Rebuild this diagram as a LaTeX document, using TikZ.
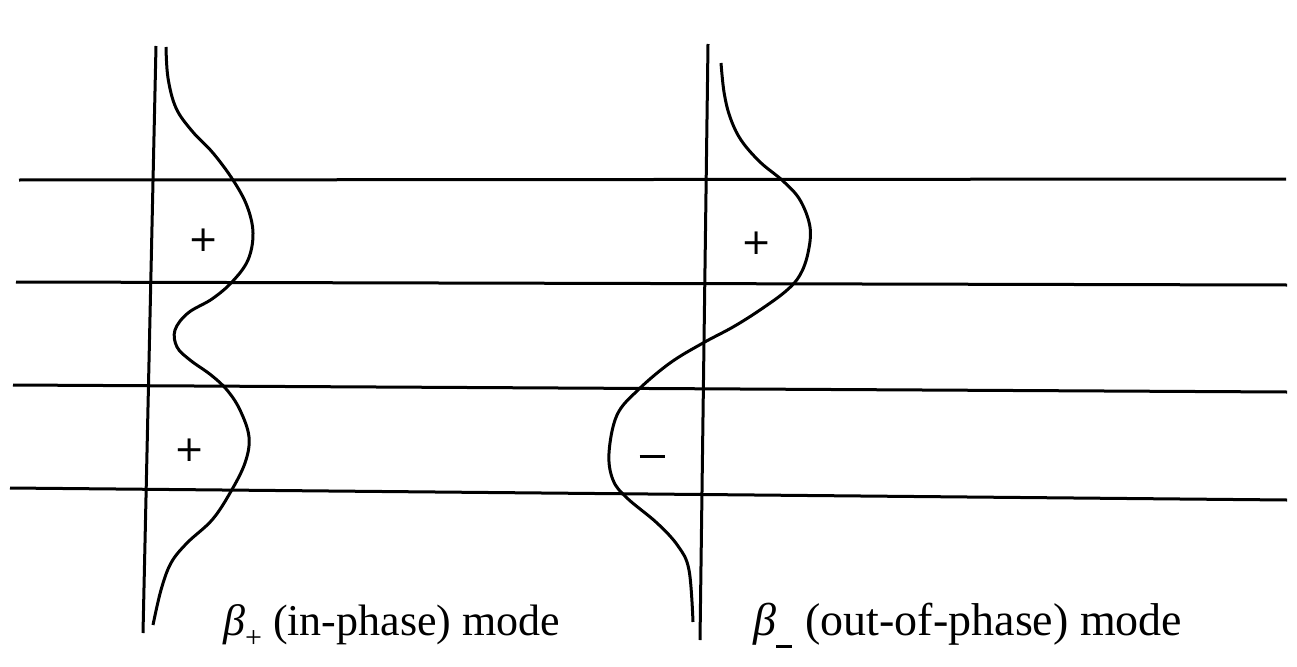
\documentclass[tikz,border=0pt]{standalone}
\usepackage{fontspec}
\setmainfont{Liberation Serif}
\newfontfamily\plusfont{DejaVu Sans}
\begin{document}
\begin{tikzpicture}[x=1pt,y=-1pt,
  rule/.style={line width=3pt},
  wave/.style={line width=3pt, smooth, tension=0.6},
  sign/.style={font=\plusfont\fontsize{36}{36}\selectfont, inner sep=0pt},
  caption/.style={font=\fontsize{44}{50}\selectfont, anchor=base west, inner sep=0pt}]
\useasboundingbox (0,0) rectangle (1297,666);
\fill[white] (0,0) rectangle (1297,666);
% horizontal lines
\coordinate (h1a) at (19,180);  \coordinate (h1b) at (1286,179);
\coordinate (h2a) at (16,282);  \coordinate (h2b) at (1287,285);
\coordinate (h3a) at (13,385);  \coordinate (h3b) at (1287,392);
\coordinate (h4a) at (10,488);  \coordinate (h4b) at (1287,500);
\draw[rule] (h1a) -- (h1b);
\draw[rule] (h2a) -- (h2b);
\draw[rule] (h3a) -- (h3b);
\draw[rule] (h4a) -- (h4b);
% vertical axes
\coordinate (la) at (156,46); \coordinate (lb) at (143,633);
\coordinate (ra) at (708,44); \coordinate (rb) at (700,640);
\draw[rule] (la) -- (lb);
\draw[rule] (ra) -- (rb);
% in-phase wave
\draw[wave] plot coordinates {(166,47) (168,78) (176,108) (192,131) (213,153) (233,180) (247,206) (253,233) (248,260) (232,282) (212,299) (188,313) (175,330) (177,347) (190,360) (211,375) (227,390) (240,410) (249,437) (245,463) (230,493) (212,520) (187,543) (171,563) (161,590) (153,625)};
% out-of-phase wave
\draw[wave] plot coordinates {(721,63) (724,92) (730,117) (741,140) (760,162) (783,181) (800,200) (810,227) (808,253) (800,275) (786,291) (760,310) (733,327) (703,343) (670,363) (638,390) (617,415) (609,453) (613,480) (627,498) (657,523) (678,546) (689,570) (693,622)};
% signs
\node[sign] (p1) at (204,240) {+};
\node[sign] (p2) at (190,450) {+};
\node[sign] (p3) at (757,243) {+};
\node[inner sep=0pt] (m1) at (652,456) {\rule{25pt}{3pt}};
% captions
\node[caption] (c1) at (223,635) {{\itshape β}\raisebox{-0.28em}{\fontsize{30}{30}\selectfont +} (in-phase) mode};
\node[caption, font=\fontsize{46}{52}\selectfont] (c2) at (753,635) {{\itshape β}\raisebox{-0.28em}{\rule{0.34em}{2.4pt}}\hspace{0.05em} (out-of-phase) mode};
\end{tikzpicture}
\end{document}
